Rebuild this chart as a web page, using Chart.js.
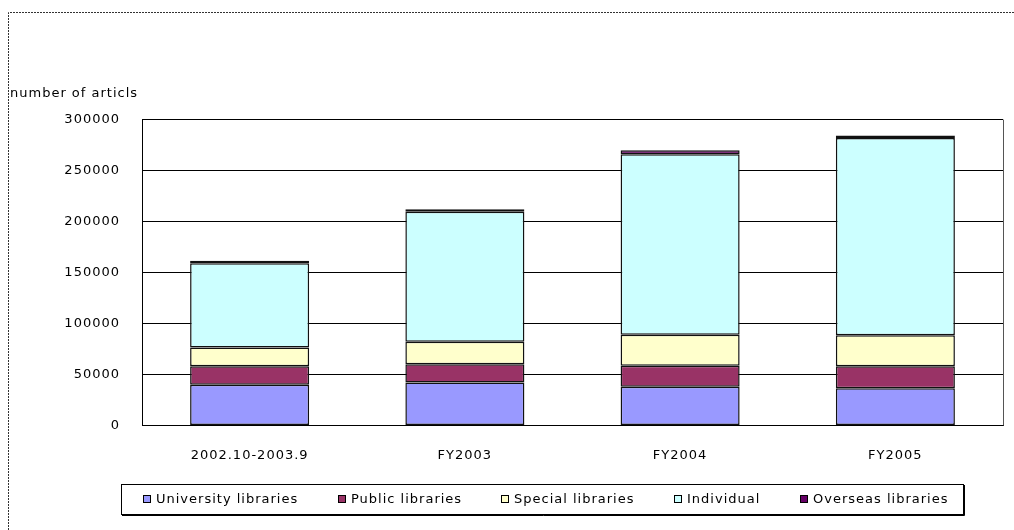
<!DOCTYPE html>
<html>
<head>
<meta charset="utf-8">
<script src="https://cdn.jsdelivr.net/npm/chart.js@4"></script>
<style>
  html, body { margin: 0; padding: 0; background: #fff; }
  canvas { display: block; }
</style>
</head>
<body>
<canvas id="mycanvas" width="1014" height="530"></canvas>
<script>
// data
var periods = ['2002.10-2003.9', 'FY2003', 'FY2004', 'FY2005'];
var university = [40000, 42000, 38000, 36500];
var publicLib = [18000, 18000, 20500, 21500];
var special = [18500, 22000, 30500, 30500];
var individual = [82500, 127500, 177000, 193500];
var overseas = [2500, 2500, 4000, 2500];

var seriesNames = ['University libraries', 'Public libraries', 'Special libraries', 'Individual', 'Overseas libraries'];
var seriesColors = ['#9999ff', '#993366', '#ffffcc', '#ccffff', '#660066'];
var yMax = 300000;
var yStep = 50000;
var yTitle = 'number of articls';

var FONT = 'DejaVu Sans';
Chart.defaults.font.family = FONT;
Chart.defaults.font.size = 13;
Chart.defaults.color = '#000';

var seriesValues = [university, publicLib, special, individual, overseas];
var datasets = [];
for (var i = 0; i < seriesNames.length; i++) {
  datasets.push({
    label: seriesNames[i],
    data: seriesValues[i],
    backgroundColor: seriesColors[i],
    borderColor: '#111',
    borderWidth: 1.5,
    borderSkipped: false,
    barPercentage: 0.553,
    categoryPercentage: 1.0
  });
}

// outer frame, plot frame and the boxed legend
var framePlugin = {
  id: 'framePlugin',
  beforeLayout: function(chart) {
    chart.ctx.letterSpacing = '1px';
  },
  beforeDraw: function(chart) {
    var ctx = chart.ctx;
    ctx.save();
    ctx.fillStyle = '#fff';
    ctx.fillRect(0, 0, chart.width, chart.height);
    ctx.strokeStyle = '#333';
    ctx.lineWidth = 1;
    ctx.setLineDash([2, 1]);
    ctx.beginPath();
    ctx.moveTo(8.5, chart.height);
    ctx.lineTo(8.5, 12.5);
    ctx.lineTo(chart.width, 12.5);
    ctx.stroke();
    ctx.restore();
    ctx.letterSpacing = '1px';
  },
  afterDraw: function(chart) {
    var ctx = chart.ctx;
    var area = chart.chartArea;
    ctx.save();
    ctx.letterSpacing = '1px';
    // right edge of plot
    ctx.strokeStyle = '#555';
    ctx.lineWidth = 1;
    ctx.beginPath();
    ctx.moveTo(Math.round(area.right) + 0.5, area.top);
    ctx.lineTo(Math.round(area.right) + 0.5, area.bottom);
    ctx.stroke();

    // legend
    var boxL = 121, boxT = 484, boxR = 963, boxB = 514;
    ctx.fillStyle = '#fff';
    ctx.fillRect(boxL, boxT, boxR - boxL, boxB - boxT);
    ctx.strokeStyle = '#000';
    ctx.strokeRect(boxL + 0.5, boxT + 0.5, boxR - boxL, boxB - boxT);
    ctx.beginPath();
    ctx.moveTo(boxL + 1, boxB + 1.5);
    ctx.lineTo(boxR + 1.5, boxB + 1.5);
    ctx.lineTo(boxR + 1.5, boxT + 1);
    ctx.stroke();

    ctx.font = '13px "' + FONT + '"';
    ctx.textBaseline = 'middle';
    ctx.textAlign = 'left';
    var sw = 8, gapText = 5;
    var widths = [], total = 0;
    chart.data.datasets.forEach(function(ds) {
      var w = sw + gapText + ctx.measureText(ds.label).width;
      widths.push(w);
      total += w;
    });
    var startX = 143, endX = 948;
    var gap = (endX - startX - total) / (widths.length - 1);
    var x = startX, cy = 499;
    chart.data.datasets.forEach(function(ds, k) {
      ctx.fillStyle = ds.backgroundColor;
      ctx.fillRect(Math.round(x), cy - 4, sw, sw);
      ctx.strokeStyle = '#000';
      ctx.strokeRect(Math.round(x) + 0.5, cy - 3.5, sw - 1, sw - 1);
      ctx.fillStyle = '#000';
      ctx.fillText(ds.label, Math.round(x) + sw + gapText, cy + 1);
      x += widths[k] + gap;
    });
    ctx.restore();
  }
};

var ctx = document.getElementById('mycanvas');
var chart = new Chart(ctx, {
  type: 'bar',
  data: { labels: periods, datasets: datasets },
  plugins: [framePlugin],
  options: {
    responsive: false,
    animation: false,
    layout: { padding: { left: 10, right: 11, top: 0, bottom: 45 } },
    plugins: {
      legend: { display: false },
      tooltip: { enabled: false },
      title: {
        display: true,
        text: yTitle,
        align: 'start',
        color: '#000',
        font: { family: FONT, size: 13, weight: 'normal' },
        padding: { top: 86, bottom: 18 }
      }
    },
    scales: {
      x: {
        stacked: true,
        grid: { display: false, drawTicks: false },
        border: { color: '#000' },
        ticks: { color: '#000', padding: 22, font: { family: FONT, size: 13 } }
      },
      y: {
        stacked: true,
        min: 0,
        max: yMax,
        afterFit: function(scale) { scale.width = 132; },
        grid: { color: '#000', drawTicks: false },
        border: { color: '#000' },
        ticks: {
          stepSize: yStep,
          color: '#000',
          padding: 22,
          font: { family: FONT, size: 13 },
          callback: function(v) { return String(v); }
        }
      }
    }
  }
});
</script>
</body>
</html>
